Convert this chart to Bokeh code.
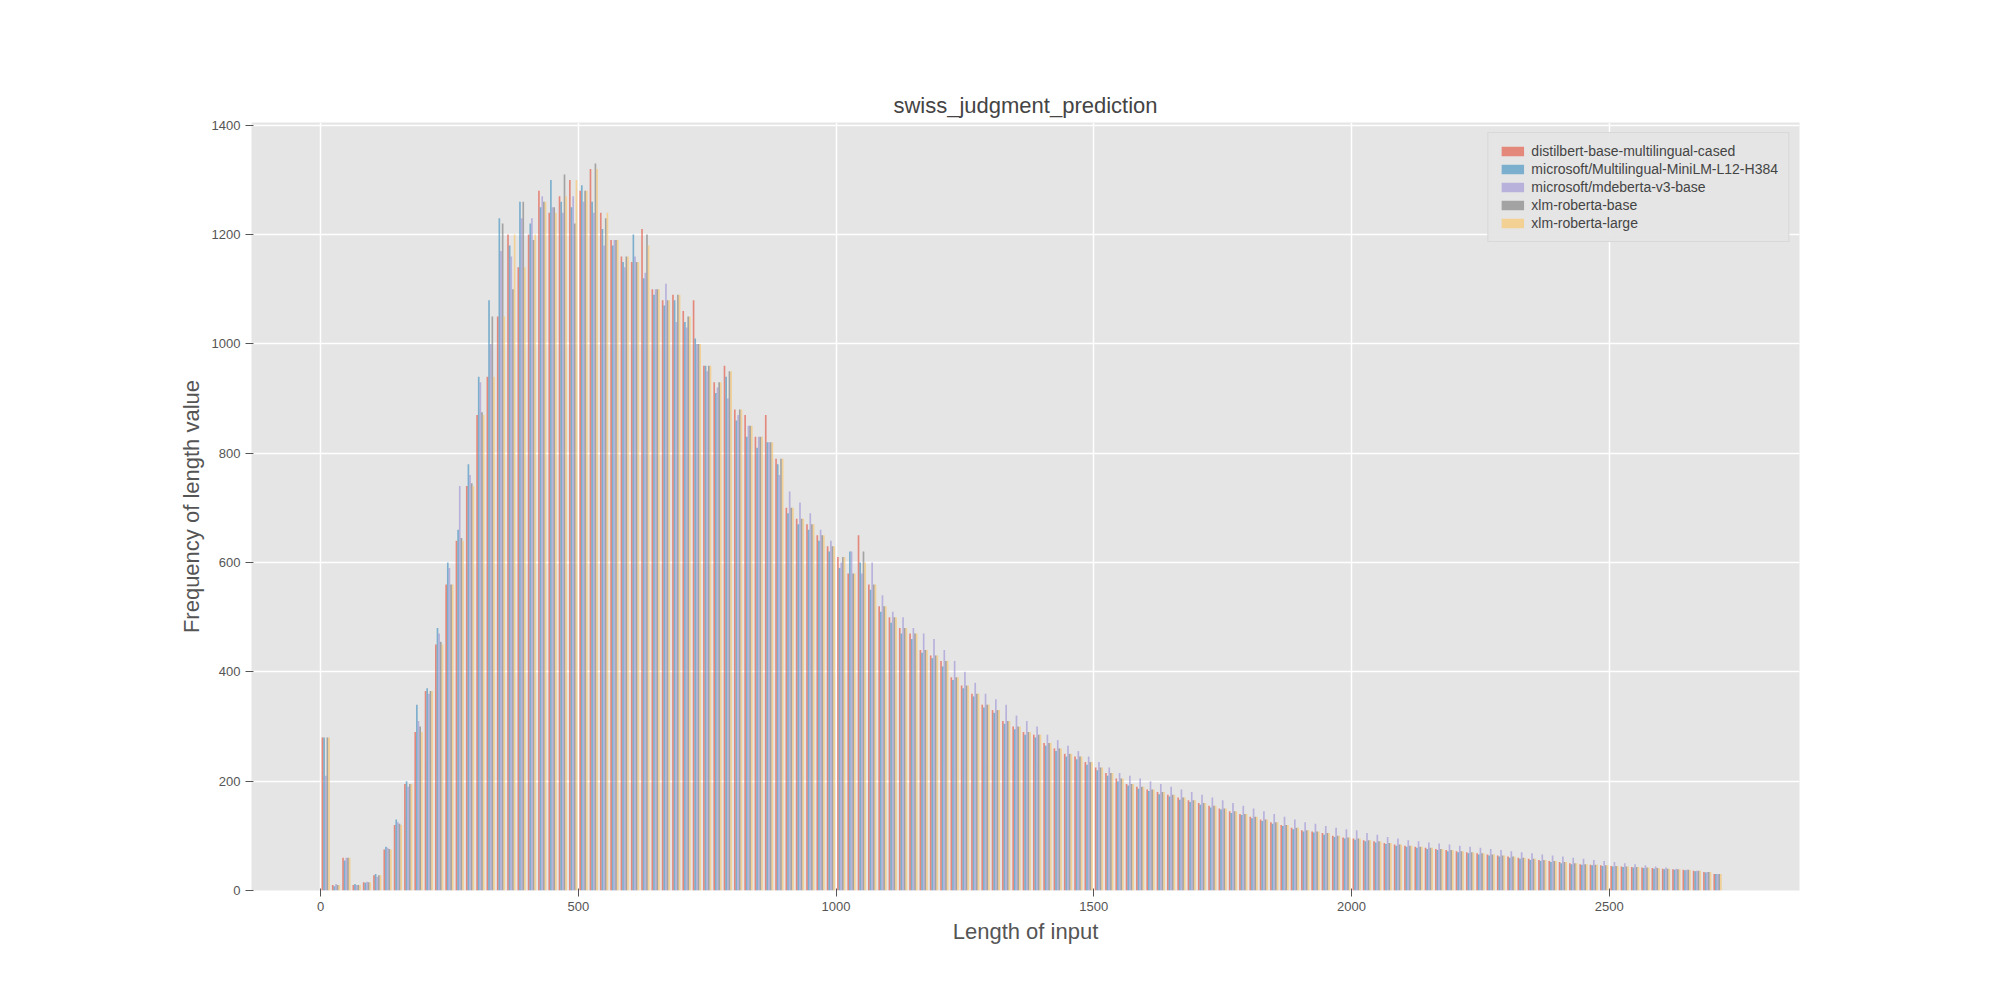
from bokeh.plotting import figure
from bokeh.models import Legend, LegendItem, Range1d
from bokeh.embed import file_html
from bokeh.resources import INLINE

bin_start = 0
bin_width = 20

names = ["distilbert-base-multilingual-cased", "microsoft/Multilingual-MiniLM-L12-H384",
         "microsoft/mdeberta-v3-base", "xlm-roberta-base", "xlm-roberta-large"]
colors = ["#E24A33", "#348ABD", "#988ED5", "#777777", "#FBC15E"]

distilbert = [280, 10, 60, 10, 15, 28, 75, 120, 195, 290, 365, 450, 560, 640, 740, 870, 940, 1050, 1200, 1140,
              1200, 1280, 1240, 1270, 1300, 1280, 1320, 1240, 1190, 1160, 1150, 1210, 1100, 1080, 1090, 1060, 1080, 960, 930, 960,
              880, 870, 830, 870, 790, 700, 680, 670, 650, 630, 610, 580, 650, 560, 520, 500, 480, 470, 440, 430,
              420, 390, 375, 360, 340, 330, 310, 300, 290, 285, 270, 260, 250, 245, 235, 225, 215, 205, 195, 190,
              185, 180, 175, 170, 165, 160, 155, 150, 145, 140, 135, 130, 125, 120, 115, 110, 108, 105, 100, 97,
              95, 92, 90, 87, 84, 82, 80, 78, 76, 74, 72, 70, 68, 66, 64, 62, 60, 58, 56, 54,
              52, 50, 48, 47, 46, 45, 44, 43, 42, 41, 40, 39, 38, 36, 34, 30]
minilm = [280, 8, 55, 12, 14, 30, 80, 130, 200, 340, 370, 480, 600, 660, 780, 940, 1080, 1230, 1180, 1260,
          1220, 1250, 1300, 1260, 1250, 1290, 1260, 1210, 1180, 1150, 1200, 1120, 1090, 1070, 1080, 1040, 1010, 960, 910, 940,
          860, 830, 810, 820, 780, 690, 670, 660, 640, 620, 590, 620, 600, 550, 510, 490, 470, 460, 435, 425,
          410, 385, 370, 355, 335, 325, 305, 295, 285, 280, 265, 255, 245, 240, 230, 220, 210, 200, 192, 186,
          182, 176, 172, 166, 162, 157, 152, 148, 142, 138, 132, 127, 122, 118, 112, 108, 106, 102, 98, 95,
          93, 90, 88, 85, 82, 80, 78, 76, 74, 72, 70, 68, 66, 64, 62, 60, 58, 56, 54, 52,
          50, 48, 47, 46, 45, 44, 43, 42, 41, 40, 39, 38, 37, 35, 33, 30]
mdeberta = [210, 12, 60, 10, 16, 25, 78, 125, 190, 310, 360, 470, 590, 740, 760, 930, 1000, 1170, 1160, 1230,
            1230, 1270, 1250, 1240, 1270, 1260, 1240, 1180, 1190, 1140, 1160, 1130, 1100, 1110, 1040, 1030, 1000, 950, 920, 900,
            870, 850, 830, 820, 760, 730, 710, 690, 660, 640, 600, 620, 580, 600, 540, 510, 500, 480, 470, 460,
            440, 420, 400, 380, 360, 350, 340, 320, 310, 300, 285, 275, 265, 255, 245, 235, 225, 215, 210, 205,
            200, 195, 190, 185, 180, 175, 170, 165, 160, 155, 150, 145, 140, 135, 130, 125, 122, 118, 115, 112,
            110, 105, 102, 98, 95, 92, 90, 88, 86, 84, 82, 80, 78, 76, 74, 72, 70, 68, 66, 64,
            62, 60, 58, 56, 54, 52, 50, 48, 46, 44, 42, 40, 38, 36, 34, 30]
xlmr_base = [280, 10, 60, 10, 15, 28, 76, 122, 195, 300, 365, 455, 560, 645, 745, 875, 1050, 1220, 1100, 1260,
             1190, 1260, 1250, 1310, 1220, 1280, 1330, 1230, 1190, 1160, 1150, 1200, 1100, 1080, 1090, 1050, 1000, 960, 930, 950,
             880, 850, 830, 820, 790, 700, 680, 670, 650, 630, 610, 580, 620, 560, 520, 500, 480, 470, 440, 430,
             420, 390, 375, 360, 340, 330, 310, 300, 290, 285, 270, 260, 250, 245, 235, 225, 215, 205, 195, 190,
             185, 180, 175, 170, 165, 160, 155, 150, 145, 140, 135, 130, 125, 120, 115, 110, 108, 105, 100, 97,
             95, 92, 90, 87, 84, 82, 80, 78, 76, 74, 72, 70, 68, 66, 64, 62, 60, 58, 56, 54,
             52, 50, 48, 47, 46, 45, 44, 43, 42, 41, 40, 39, 38, 36, 34, 30]
xlmr_large = [280, 10, 60, 10, 15, 28, 75, 120, 195, 290, 365, 450, 560, 640, 740, 870, 940, 1050, 1200, 1140,
              1200, 1260, 1240, 1270, 1300, 1280, 1320, 1240, 1190, 1160, 1150, 1180, 1100, 1080, 1090, 1050, 1000, 960, 930, 950,
              880, 850, 830, 820, 790, 700, 680, 670, 650, 630, 610, 580, 600, 560, 520, 500, 480, 470, 440, 430,
              420, 390, 375, 360, 340, 330, 310, 300, 290, 285, 270, 260, 250, 245, 235, 225, 215, 205, 195, 190,
              185, 180, 175, 170, 165, 160, 155, 150, 145, 140, 135, 130, 125, 120, 115, 110, 108, 105, 100, 97,
              95, 92, 90, 87, 84, 82, 80, 78, 76, 74, 72, 70, 68, 66, 64, 62, 60, 58, 56, 54,
              52, 50, 48, 47, 46, 45, 44, 43, 42, 41, 40, 39, 38, 36, 34, 30]
series = [distilbert, minilm, mdeberta, xlmr_base, xlmr_large]

p = figure(width=1984, height=984, output_backend="svg", toolbar_location=None,
           title="swiss_judgment_prediction", x_axis_label="Length of input",
           y_axis_label="Frequency of length value",
           x_range=Range1d(-134, 2869), y_range=Range1d(0, 1405),
           min_border_left=251, min_border_right=185, min_border_top=122, min_border_bottom=94)
p.background_fill_color = "#E5E5E5"
p.outline_line_color = None
p.grid.grid_line_color = "white"
p.grid.grid_line_width = 1.5
p.xaxis.ticker = [0, 500, 1000, 1500, 2000, 2500]
p.yaxis.ticker = list(range(0, 1401, 200))
for ax in (p.xaxis, p.yaxis):
    ax.axis_line_color = None
    ax.major_tick_line_color = "#555555"
    ax.minor_tick_line_color = None
    ax.major_label_text_font_size = "13px"
    ax.major_label_text_color = "#555555"
    ax.axis_label_text_font_size = "22px"
    ax.axis_label_text_font_style = "normal"
    ax.axis_label_text_color = "#555555"
p.title.align = "center"
p.title.text_font_size = "22px"
p.title.text_font_style = "normal"

bw = bin_width * 0.8 / 5
items = []
for i, vals in enumerate(series):
    xs = [bin_start + k * bin_width + bin_width * 0.1 + bw * (i + 0.5) for k in range(len(vals))]
    r = p.vbar(x=xs, top=vals, width=bw, fill_color=colors[i], fill_alpha=0.6, line_color=None)
    items.append(LegendItem(label=names[i], renderers=[r]))

legend = Legend(items=items, location="top_right", background_fill_color="#E5E5E5",
                border_line_color="#CCCCCC", label_text_font_size="14px",
                glyph_width=28, glyph_height=12, spacing=2)
p.add_layout(legend)

open("out.html", "w").write(file_html(p, INLINE))
